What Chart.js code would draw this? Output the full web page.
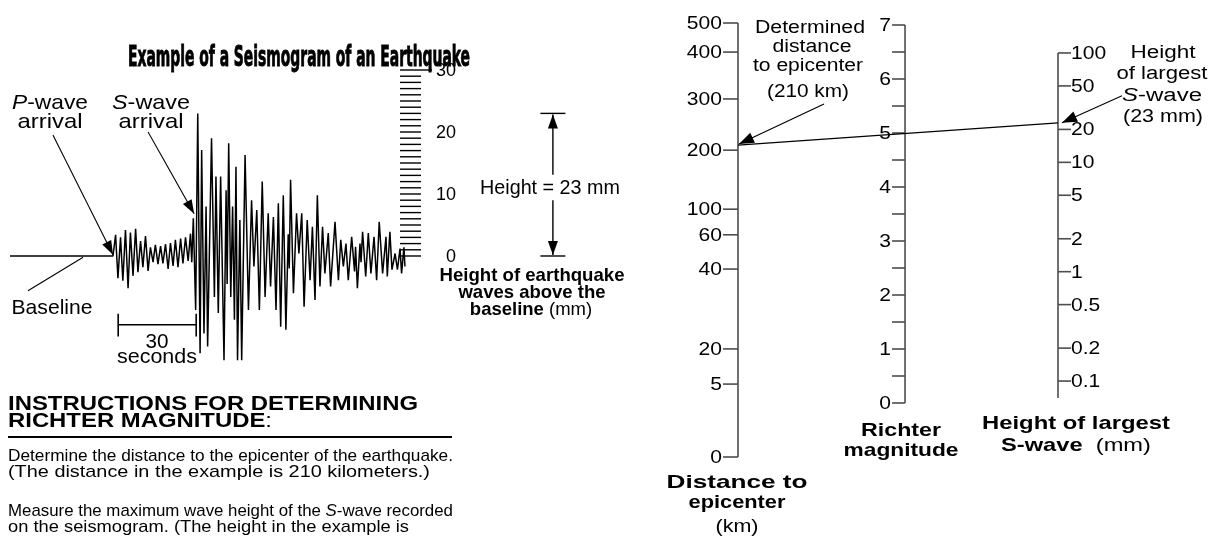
<!DOCTYPE html>
<html>
<head>
<meta charset="utf-8">
<style>
  body { margin: 0; background: #fff; }
  #page { position: relative; width: 1218px; height: 541px; overflow: hidden;
          font-family: "Liberation Sans", Arial, Helvetica, sans-serif; color: #000; }
  canvas { position: absolute; top: 0; }
  .t { position: absolute; white-space: nowrap; line-height: 1; }
  .title { font-family: "Liberation Sans Narrow", "DejaVu Sans Condensed", "Liberation Sans", sans-serif;
           font-weight: 700; -webkit-text-stroke: 0.9px #000; }
  .rule { position: absolute; left: 8px; top: 436px; width: 444px; height: 2px; background: #000; }
</style>
</head>
<body>
<div id="page">
  <canvas id="seis" width="640" height="541" style="left:0"></canvas>
  <canvas id="nomo" width="578" height="541" style="left:640px"></canvas>
  <div class="rule"></div>
</div>
<script src="https://cdn.jsdelivr.net/npm/chart.js"></script>
<script>
// ---- seismogram trace: seconds after P-wave arrival / height above baseline (mm)
const waveSeconds = [-39.6, 0, 1.0, 1.9, 2.9, 3.8, 4.8, 5.8, 6.7, 7.7, 8.7, 9.6, 10.6, 11.5, 12.5, 13.5, 14.4,
  15.4, 16.3, 17.3, 18.3, 19.2, 20.2, 21.2, 22.1, 23.1, 24.0, 25.0, 26.0, 26.9, 27.9, 28.9, 29.8, 30.3,
  30.9, 31.8, 32.6, 33.5, 34.1, 35.0, 35.8, 36.4, 37.9, 39.0, 39.6, 40.5, 41.4, 42.7, 43.5, 43.9, 44.5,
  45.3, 46.0, 46.7, 47.3, 47.9, 48.8, 49.5, 50.8, 52.1, 53.3, 54.2, 55.3, 56.3, 57.4, 58.5, 59.7, 60.6,
  61.7, 62.7, 63.6, 64.5, 65.5, 66.5, 67.4, 67.8, 68.3, 69.4, 70.6, 71.5, 72.6, 73.5, 74.7, 75.8, 76.7,
  77.7, 78.6, 79.6, 80.6, 81.5, 82.8, 83.7, 85.4, 86.7, 87.6, 88.6, 89.6, 90.5, 91.8, 92.9, 93.3, 94.0,
  95.0, 95.4, 96.0, 97.2, 98.2, 99.2, 100.4, 101.4, 102.4, 103.7, 105.0, 105.5, 106.5, 107.3, 108.5,
  109.4, 110.4, 111.0, 111.9, 112.3];
const waveHeights = [0, 0, 3.4, -3.6, 3.0, -4.0, 4.2, -5.2, 3.8, -3.2, 4.4, -2.6, 2.4, -1.8, 3.2, -2.4, 1.4,
  -1.0, 1.8, -1.3, 1.6, -1.2, 1.9, -2.1, 2.1, -1.6, 2.6, -1.8, 2.8, -1.2, 3.0, -0.8, 3.6, -1.0,
  6.1, -8.7, 23.0, -15.7, 17.1, -12.5, 8.0, -14.6, 19.0, -6.6, 12.8, -9.2, 12.8, -16.8, 10.6, -4.5, 18.2,
  -6.6, 8.0, -10.3, 14.4, -16.8, 5.8, -16.8, 16.3, -8.7, 9.0, -1.7, 7.4, -8.7, 12.0, -6.6, 6.9, -4.9,
  6.3, -8.7, 8.5, -11.4, 9.8, -11.9, 3.5, -2.0, 12.3, -6.0, 6.9, 0.4, 6.9, -8.2, 5.8, -3.9, 4.7,
  -7.1, 9.8, -4.9, 4.7, -2.8, 3.7, -4.9, 5.5, -3.9, 2.6, -1.7, 2.0, -3.9, 3.1, -2.5, 1.5, -5.2,
  2.0, -1.0, 3.9, -3.3, 3.7, -2.8, 3.1, -3.9, 5.5, -2.8, 3.1, -3.3, 3.9, -2.2, 0.4,
  -2.2, 1.2, -2.8, 1.4, -1.7];
const rulerLabels = [0, 10, 20, 30];
const rulerTop = 30;
const sWaveHeight = 23;

// ---- nomogram
const distanceTicks = [0, 5, 20, 40, 60, 100, 200, 300, 400, 500];
const magnitudeTicks = [0, 1, 2, 3, 4, 5, 6, 7];
const magnitudeMinor = [0.5, 1.5, 2.5, 3.5, 4.5, 5.5, 6.5];
const amplitudeTicks = ['0.1', '0.2', '0.5', '1', '2', '5', '10', '20', '50', '100'];
const exampleDistance = 210;
const exampleAmplitude = 23;

// the distance scale of the nomogram is drawn unevenly: value -> share of the axis length
const DIST_STOPS = [[0, 0], [5, 0.168], [20, 0.249], [40, 0.433], [60, 0.512], [100, 0.571],
  [200, 0.707], [300, 0.825], [400, 0.933], [500, 1]];

class PiecewiseScale extends Chart.LinearScale {
  getPixelForValue(value) {
    const st = DIST_STOPS;
    let f = 1;
    for (let i = 1; i < st.length; i++) {
      if (value <= st[i][0]) {
        f = st[i - 1][1] + (value - st[i - 1][0]) / (st[i][0] - st[i - 1][0]) * (st[i][1] - st[i - 1][1]);
        break;
      }
    }
    return this.getPixelForDecimal(f);
  }
}
PiecewiseScale.id = 'piecewise';
PiecewiseScale.defaults = Chart.LinearScale.defaults;
Chart.register(PiecewiseScale);

function seg(ctx, x1, y1, x2, y2) {
  ctx.beginPath(); ctx.moveTo(x1, y1); ctx.lineTo(x2, y2); ctx.stroke();
}
function arrow(ctx, x1, y1, x2, y2, len, half) {
  seg(ctx, x1, y1, x2, y2);
  const a = Math.atan2(y2 - y1, x2 - x1);
  const bx = x2 - len * Math.cos(a), by = y2 - len * Math.sin(a);
  ctx.beginPath();
  ctx.moveTo(x2, y2);
  ctx.lineTo(bx + half * Math.sin(a), by - half * Math.cos(a));
  ctx.lineTo(bx - half * Math.sin(a), by + half * Math.cos(a));
  ctx.closePath(); ctx.fill();
}
function stretchText(ctx, str, x, y, align, sx) {
  ctx.save();
  ctx.translate(x, y); ctx.scale(sx, 1);
  ctx.textAlign = align; ctx.textBaseline = 'middle';
  ctx.fillText(str, 0, 0);
  ctx.restore();
}

const seisDecor = {
  id: 'seisDecor',
  afterDatasetsDraw(chart) {
    const ctx = chart.ctx;
    const px = v => chart.scales.x.getPixelForValue(v);
    const py = v => chart.scales.y.getPixelForValue(v);
    ctx.save();
    ctx.strokeStyle = '#000'; ctx.fillStyle = '#000';

    // mm ruler
    ctx.lineWidth = 1.4;
    for (let mm = 0; mm <= rulerTop; mm++) seg(ctx, 400, py(mm), 421, py(mm));
    seg(ctx, 421, py(rulerTop), 432, py(rulerTop));
    ctx.font = '18px "Liberation Sans", Arial, sans-serif';
    rulerLabels.forEach(v => stretchText(ctx, String(v), 456, py(v) + 1, 'right', 1));

    // pointers
    ctx.lineWidth = 1.1;
    arrow(ctx, px(-23.1), py(19.5), px(0), py(0.2), 14, 5);
    arrow(ctx, px(13.5), py(20.0), px(31.2), py(6.8), 14, 5);
    seg(ctx, px(-32.7), py(-5.6), px(-11.5), py(-0.2));

    // 30 second bar
    ctx.lineWidth = 1.6;
    seg(ctx, px(2), py(-11.1), px(32), py(-11.1));
    seg(ctx, px(2), py(-9.3), px(2), py(-13.0));
    seg(ctx, px(32), py(-9.3), px(32), py(-13.0));

    // height marker
    const xh = px(169.2);
    ctx.lineWidth = 1.4;
    seg(ctx, xh - 12.5, py(sWaveHeight), xh + 12.5, py(sWaveHeight));
    seg(ctx, xh - 12.5, py(0), xh + 12.5, py(0));
    arrow(ctx, xh, py(13.1), xh, py(sWaveHeight) + 1, 14, 5);
    arrow(ctx, xh, py(9.0), xh, py(0) - 1, 14, 5);
    ctx.restore();
  }
};

new Chart(document.getElementById('seis'), {
  type: 'line',
  data: {
    datasets: [{
      data: waveSeconds.map((t, i) => ({ x: t, y: waveHeights[i] })),
      borderColor: '#000',
      borderWidth: 1.5,
      borderJoinStyle: 'bevel',
      pointRadius: 0,
      tension: 0
    }]
  },
  options: {
    responsive: false, animation: false, events: [],
    layout: { padding: 0 },
    plugins: { legend: { display: false }, tooltip: { enabled: false } },
    scales: {
      x: { type: 'linear', display: false, min: -43.46, max: 202.7, bounds: 'data' },
      y: { type: 'linear', display: false, min: -45.97, max: 41.29, bounds: 'data' }
    }
  },
  plugins: [seisDecor]
});

const nomoDecor = {
  id: 'nomoDecor',
  afterDraw(chart) {
    const ctx = chart.ctx, s = chart.scales;
    const xd = s.x.getPixelForValue(0), xm = s.x.getPixelForValue(0.522), xa = s.x.getPixelForValue(1);
    const sx = 1.17;
    ctx.save();
    ctx.font = '18px "Liberation Sans", Arial, sans-serif';
    ctx.fillStyle = '#000';
    ctx.strokeStyle = '#4d4d4d'; ctx.lineWidth = 1.6;

    // distance to epicenter
    seg(ctx, xd, s.dist.getPixelForValue(0), xd, s.dist.getPixelForValue(500));
    distanceTicks.forEach(v => {
      const y = s.dist.getPixelForValue(v);
      seg(ctx, xd - 15, y, xd, y);
      stretchText(ctx, String(v), xd - 16, y + 1, 'right', sx);
    });

    // Richter magnitude
    seg(ctx, xm, s.mag.getPixelForValue(0), xm, s.mag.getPixelForValue(7));
    magnitudeMinor.forEach(v => seg(ctx, xm - 13, s.mag.getPixelForValue(v), xm, s.mag.getPixelForValue(v)));
    magnitudeTicks.forEach(v => {
      const y = s.mag.getPixelForValue(v);
      seg(ctx, xm - 13, y, xm, y);
      stretchText(ctx, String(v), xm - 14, y + 1, 'right', sx);
    });

    // height of largest S-wave
    seg(ctx, xa, s.amp.getPixelForValue(0.07), xa, s.amp.getPixelForValue(100));
    amplitudeTicks.forEach(v => {
      const y = s.amp.getPixelForValue(Number(v));
      seg(ctx, xa, y, xa + 13, y);
      stretchText(ctx, v, xa + 13, y + 1, 'left', sx);
    });

    // reading line and pointers
    const y1 = s.dist.getPixelForValue(exampleDistance), y2 = s.amp.getPixelForValue(exampleAmplitude);
    ctx.strokeStyle = '#000'; ctx.lineWidth = 1.3;
    seg(ctx, xd, y1, xa, y2);
    ctx.lineWidth = 1.1;
    arrow(ctx, xd + 86, y1 - 41, xd + 1, y1 - 1, 15, 5.5);
    arrow(ctx, xa + 64, y2 - 27, xa + 4, y2, 15, 5.5);
    ctx.restore();
  }
};

new Chart(document.getElementById('nomo'), {
  type: 'line',
  data: { labels: [], datasets: [] },
  options: {
    responsive: false, animation: false, events: [],
    layout: { padding: { left: 98, right: 160, top: 23, bottom: 84 } },
    plugins: { legend: { display: false }, tooltip: { enabled: false } },
    scales: {
      x: { type: 'linear', display: false, min: 0, max: 1, bounds: 'data' },
      dist: { type: 'piecewise', axis: 'y', position: 'left', display: false, min: 0, max: 500, bounds: 'data' },
      mag: { type: 'linear', axis: 'y', position: 'left', display: false, min: -1.0, max: 7.037, bounds: 'data' },
      amp: { type: 'logarithmic', axis: 'y', position: 'right', display: false, min: 0.0202, max: 188, bounds: 'data' }
    }
  },
  plugins: [nomoDecor]
});

// ---- text: [html, x, y, size, weight, target width, align]
const texts = [
  ['Example of a Seismogram of an Earthquake', 299, 57, 28, 'title', 342, 'c'],
  ['<i>P</i>-wave', 50, 101, 21, 400, 76, 'c'],
  ['arrival', 50, 120, 21, 400, 65, 'c'],
  ['<i>S</i>-wave', 151, 101, 21, 400, 78, 'c'],
  ['arrival', 151, 120, 21, 400, 65, 'c'],
  ['Baseline', 52, 306, 21, 400, 81, 'c'],
  ['30', 157, 340, 21, 400, 23, 'c'],
  ['seconds', 157, 355, 21, 400, 80, 'c'],
  ['Height = 23 mm', 550, 187, 20, 400, 140, 'c'],
  ['Height of earthquake', 532, 275, 18.5, 700, 185, 'c'],
  ['waves above the', 532, 292, 18.5, 700, 0, 'c'],
  ['baseline <span style="font-weight:400">(mm)</span>', 531, 309, 18.5, 700, 0, 'c'],
  ['INSTRUCTIONS FOR DETERMINING', 8, 402, 21, 700, 410, 'l'],
  ['RICHTER MAGNITUDE<span style="font-weight:400">:</span>', 8, 419, 21, 700, 264, 'l'],
  ['Determine the distance to the epicenter of the earthquake.', 8, 455, 17, 400, 445, 'l'],
  ['(The distance in the example is 210 kilometers.)', 8, 471, 17, 400, 422, 'l'],
  ['Measure the maximum wave height of the <i>S</i>-wave recorded', 8, 510, 17, 400, 445, 'l'],
  ['on the seismogram. (The height in the example is', 8, 526, 17, 400, 401, 'l'],
  ['Determined', 810, 27, 18, 400, 110, 'c'],
  ['distance', 812, 46, 18, 400, 79, 'c'],
  ['to epicenter', 808, 65, 18, 400, 110, 'c'],
  ['(210 km)', 808, 91, 18, 400, 82, 'c'],
  ['Height', 1163, 52, 18, 400, 65, 'c'],
  ['of largest', 1162, 73, 18, 400, 91, 'c'],
  ['<i>S</i>-wave', 1162, 95, 18, 400, 80, 'c'],
  ['(23 mm)', 1163, 116, 18, 400, 80, 'c'],
  ['Distance to', 737, 482, 18.5, 700, 141, 'c'],
  ['epicenter', 737, 502, 18.5, 700, 97, 'c'],
  ['(km)', 737, 526, 18.5, 400, 43, 'c'],
  ['Richter', 901, 430, 18.5, 700, 80, 'c'],
  ['magnitude', 901, 450, 18.5, 700, 115, 'c'],
  ['Height of largest', 1076, 423, 18.5, 700, 188, 'c'],
  ['S-wave <span style="font-weight:400">&nbsp;(mm)</span>', 1076, 445, 18.5, 700, 150, 'c']
];

const page = document.getElementById('page');
texts.forEach(([html, x, y, size, weight, w, align]) => {
  const d = document.createElement('div');
  d.className = 't' + (weight === 'title' ? ' title' : '');
  d.innerHTML = html;
  d.style.fontSize = size + 'px';
  if (weight !== 'title') d.style.fontWeight = weight;
  d.style.left = x + 'px';
  d.style.top = y + 'px';
  page.appendChild(d);
  const k = w ? w / d.getBoundingClientRect().width : 1;
  if (align === 'c') {
    d.style.transformOrigin = '50% 50%';
    d.style.transform = 'translate(-50%, -50%) scaleX(' + k + ')';
  } else {
    d.style.transformOrigin = '0 50%';
    d.style.transform = 'translateY(-50%) scaleX(' + k + ')';
  }
});
</script>
</body>
</html>
